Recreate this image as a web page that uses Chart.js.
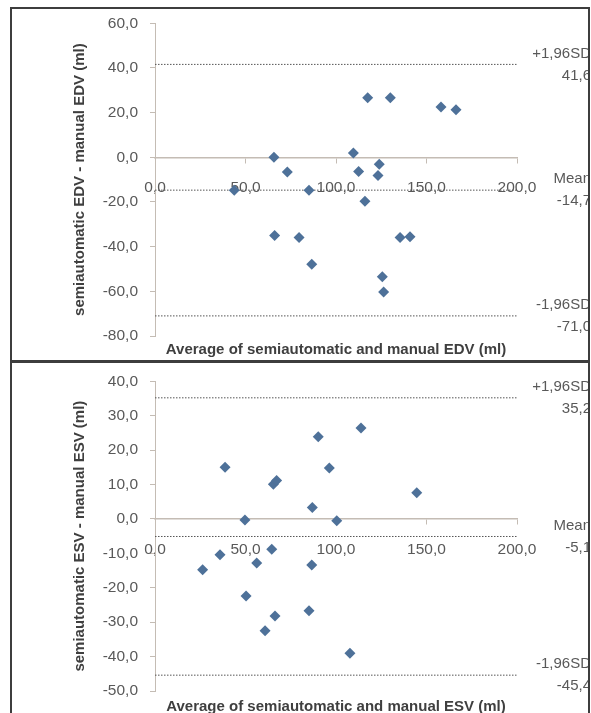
<!DOCTYPE html>
<html>
<head>
<meta charset="utf-8">
<script src="https://cdn.jsdelivr.net/npm/chart.js@4.4.1/dist/chart.umd.min.js"></script>
<style>
    html, body { margin: 0; padding: 0; background: #fff; }
    #wrap { position: relative; width: 591px; height: 713px; overflow: hidden; }
    .panel { position: absolute; left: 0; width: 588px; }
    .frame { position: absolute; border: 2px solid #3d3d3d; box-sizing: border-box; pointer-events: none; }
</style>
</head>
<body>
<div id="wrap">
    <div class="panel" style="top:0;height:360px"><canvas id="edv-chart" width="588" height="360"></canvas></div>
    <div class="panel" style="top:360px;height:353px"><canvas id="esv-chart" width="588" height="353"></canvas></div>
    <div class="frame" style="left:10px;top:7px;width:580px;height:353px;border-bottom:none"></div>
    <div class="frame" style="left:10px;top:360px;width:580px;height:360px;border-top-width:3px;border-bottom:none"></div>
</div>
<script>
/**
 * Two Bland-Altman plots: semiautomatic vs manual EDV and ESV.
 */

// Shared x axis ticks (average of both methods, ml).
let xTicks = [0, 50, 100, 150, 200];

// EDV plot: average (x) and difference (y) of each patient.
let edvAverage = [43.8, 65.7, 73.1, 66.1, 79.6, 85.1, 86.6, 109.6, 112.5, 123.9,
    123.2, 116.0, 117.5, 130.0, 158.0, 166.3, 135.4, 140.9, 125.6, 126.3];
let edvDifference = [-14.8, 0.0, -6.6, -35.0, -35.9, -14.8, -47.9, 1.9, -6.3, -3.1,
    -8.1, -19.7, 26.7, 26.7, 22.5, 21.3, -35.9, -35.6, -53.5, -60.3];
let edvYTicks = [-80, -60, -40, -20, 0, 20, 40, 60];
let edvLimits = [41.6, -14.7, -71.0];
let edvLimitNames = ['+1,96SD', 'Mean', '-1,96SD'];

// ESV plot.
let esvAverage = [38.7, 65.4, 67.2, 49.7, 35.9, 26.3, 64.5, 56.2, 50.3, 66.3,
    60.8, 90.2, 113.8, 96.3, 144.6, 86.9, 100.4, 86.6, 85.1, 107.7];
let esvDifference = [15.0, 10.1, 11.2, -0.3, -10.4, -14.8, -8.8, -12.8, -22.4, -28.2,
    -32.5, 23.9, 26.4, 14.8, 7.6, 3.3, -0.5, -13.4, -26.7, -39.0];
let esvYTicks = [-50, -40, -30, -20, -10, 0, 10, 20, 30, 40];
let esvLimits = [35.2, -5.1, -45.4];
let esvLimitNames = ['+1,96SD', 'Mean', '-1,96SD'];

Chart.defaults.font.family = "'Liberation Sans', Arial, sans-serif";
Chart.defaults.color = '#595959';

let axisColor = '#c4bcb4';
let textColor = '#595959';
let titleColor = '#3f3f3f';
let pointColor = '#4e7199';

function fmt(v) {
    return Number(v).toFixed(1).replace('.', ',');
}

// Writes the limit names and values at the right side of each dotted line.
const limitLabels = {
    id: 'limitLabels',
    afterDraw(chart, args, opts) {
        const ctx = chart.ctx;
        const y = chart.scales.y;
        ctx.save();
        ctx.font = "15px 'Liberation Sans', Arial, sans-serif";
        ctx.fillStyle = textColor;
        ctx.textAlign = 'right';
        ctx.textBaseline = 'middle';
        opts.values.forEach((v, i) => {
            const py = y.getPixelForValue(v);
            ctx.fillText(opts.names[i], opts.x, py - 11);
            ctx.fillText(fmt(v), opts.x, py + 11);
        });
        ctx.restore();
    }
};

function makeChart(id, average, difference, yTicks, limits, names, pad, xTitle, yTitle, xTitleDrop) {
    const points = average.map((x, i) => ({x: x, y: difference[i]}));

    const limitSets = limits.map((v) => ({
        type: 'line',
        data: [{x: xTicks[0], y: v}, {x: xTicks[xTicks.length - 1], y: v}],
        borderColor: '#555555',
        borderWidth: 1,
        borderDash: [1.5, 1.5],
        pointRadius: 0,
        fill: false
    }));

    return new Chart(document.getElementById(id), {
        type: 'scatter',
        data: {
            datasets: [{
                data: points,
                pointStyle: 'rectRot',
                pointRadius: 5.5,
                pointHoverRadius: 5.5,
                backgroundColor: pointColor,
                borderColor: pointColor,
                borderWidth: 0
            }].concat(limitSets)
        },
        options: {
            responsive: false,
            animation: false,
            layout: {padding: pad},
            plugins: {
                legend: {display: false},
                tooltip: {enabled: false},
                limitLabels: {values: limits, names: names, x: 591}
            },
            scales: {
                x: {
                    type: 'linear',
                    position: {y: 0},
                    min: xTicks[0],
                    max: xTicks[xTicks.length - 1],
                    afterBuildTicks: (s) => { s.ticks = xTicks.map((v) => ({value: v})); },
                    afterFit: (s) => { s.height = xTitleDrop + 9; },
                    border: {color: axisColor, width: 1.5},
                    grid: {drawOnChartArea: false, tickLength: 5, color: axisColor},
                    ticks: {
                        padding: 16,
                        color: textColor,
                        font: {size: 15.5},
                        maxRotation: 0,
                        callback: (v) => fmt(v)
                    },
                    title: {
                        display: true,
                        text: xTitle,
                        color: titleColor,
                        font: {size: 15, weight: 'bold'},
                        padding: 0
                    }
                },
                y: {
                    type: 'linear',
                    position: 'left',
                    min: yTicks[0],
                    max: yTicks[yTicks.length - 1],
                    afterBuildTicks: (s) => { s.ticks = yTicks.map((v) => ({value: v})); },
                    afterFit: (s) => { s.width = 144; },
                    border: {color: axisColor, width: 1},
                    grid: {drawOnChartArea: false, tickLength: 5, color: axisColor},
                    ticks: {
                        padding: 12,
                        color: textColor,
                        font: {size: 15.5},
                        callback: (v) => fmt(v)
                    },
                    title: {
                        display: true,
                        text: yTitle,
                        color: titleColor,
                        font: {size: 15, weight: 'bold'},
                        padding: {top: 60, bottom: 0}
                    }
                }
            }
        },
        plugins: [limitLabels]
    });
}

let edvChart = makeChart('edv-chart', edvAverage, edvDifference, edvYTicks, edvLimits, edvLimitNames,
    {left: 11, right: 71, top: 23.3, bottom: 24},
    'Average of semiautomatic and manual EDV (ml)',
    'semiautomatic EDV - manual EDV (ml)', 193);

let esvChart = makeChart('esv-chart', esvAverage, esvDifference, esvYTicks, esvLimits, esvLimitNames,
    {left: 11, right: 71, top: 18.3, bottom: 22},
    'Average of semiautomatic and manual ESV (ml)',
    'semiautomatic ESV - manual ESV (ml)', 187.7);
</script>
</body>
</html>
